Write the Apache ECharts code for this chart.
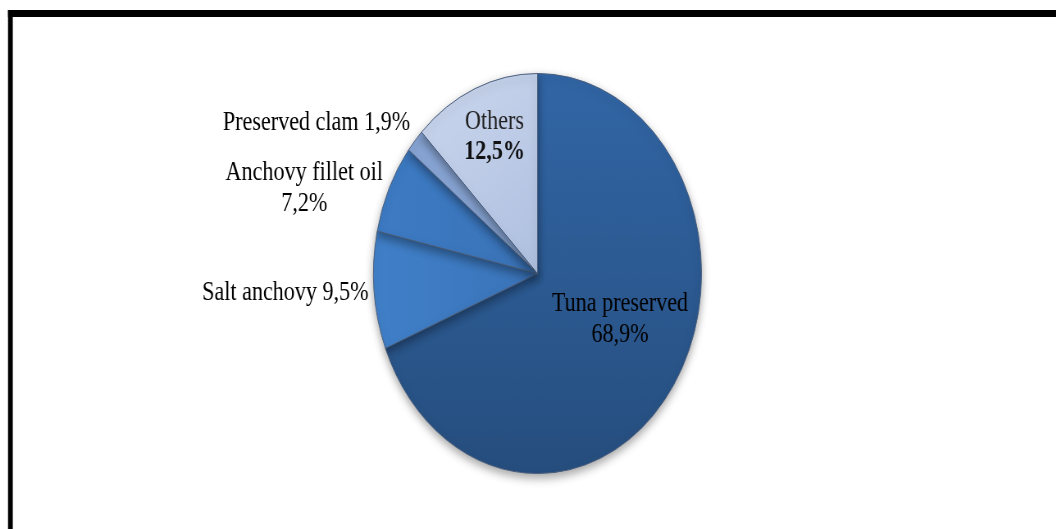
<!DOCTYPE html>
<html>
<head>
<meta charset="utf-8">
<script src="https://cdn.jsdelivr.net/npm/echarts@6/dist/echarts.min.js"></script>
<style>
html,body{margin:0;padding:0;background:#fff;overflow:hidden;width:1056px;height:529px;}
#main{width:1288px;height:529px;transform:scaleX(0.82);transform-origin:0 0;}
</style>
</head>
<body>
<div id="main"></div>
<script>
const categories = ["Tuna preserved", "Salt anchovy", "Anchovy fillet oil", "Preserved clam", "Others"];
const values = [68.9, 9.5, 7.2, 1.9, 12.5];
const labelTexts = ["Tuna preserved\n68,9%", "Salt anchovy 9,5%", "Anchovy fillet oil\n7,2%", "Preserved clam 1,9%", "{g|Others}\n{b|12,5%}"];

const colors = [
  {type:'linear',x:0,y:0,x2:0,y2:1,colorStops:[{offset:0,color:'#3266a6'},{offset:1,color:'#264e7e'}]},
  {type:'linear',x:0,y:0,x2:1,y2:0,colorStops:[{offset:0,color:'#4080c9'},{offset:1,color:'#3a73b8'}]},
  {type:'linear',x:0,y:0,x2:1,y2:0,colorStops:[{offset:0,color:'#3d7bc4'},{offset:1,color:'#3a72b6'}]},
  '#86a3d2',
  {type:'linear',x:0,y:0,x2:1,y2:1,colorStops:[{offset:0,color:'#cbd7ee'},{offset:1,color:'#aebfdf'}]}
];
const labelPos = [[756,319],[348,293],[371,188],[386,123],[603,137]];

const chart = echarts.init(document.getElementById('main'), null, {renderer:'canvas'});
chart.setOption({
  animation:false,
  backgroundColor:'#ffffff',
  graphic:[
    {type:'rect',shape:{x:9.75,y:10,width:1300,height:7},style:{fill:'#000'}},
    {type:'rect',shape:{x:9.75,y:10,width:5.8,height:540},style:{fill:'#000'}}
  ],
  series:[{
    type:'pie',
    center:[655.5,273.5],
    radius:[0,200],
    startAngle:90,
    clockwise:true,
    avoidLabelOverlap:false,
    data: categories.map((c,i)=>({name:c,value:values[i],itemStyle:{color:colors[i]},
      label:{formatter:labelTexts[i]}})),
    itemStyle:{borderColor:'#4a5f7e',borderWidth:1,shadowBlur:10,shadowColor:'rgba(0,0,0,0.35)',shadowOffsetY:4},
    label:{show:true,position:'inside',color:'#000',fontFamily:'Liberation Serif',fontSize:27,lineHeight:31,
      rich:{
        b:{fontFamily:'Liberation Serif',fontSize:27,fontWeight:'bold',color:'#111',lineHeight:31},
        g:{fontFamily:'Liberation Serif',fontSize:27,color:'#222',lineHeight:31}
      }},
    labelLine:{show:false},
    labelLayout:function(p){
      const pos = labelPos[p.dataIndex];
      return {x:pos[0],y:pos[1],align:'center',verticalAlign:'middle'};
    },
    emphasis:{disabled:true}
  }]
});
</script>
</body>
</html>
